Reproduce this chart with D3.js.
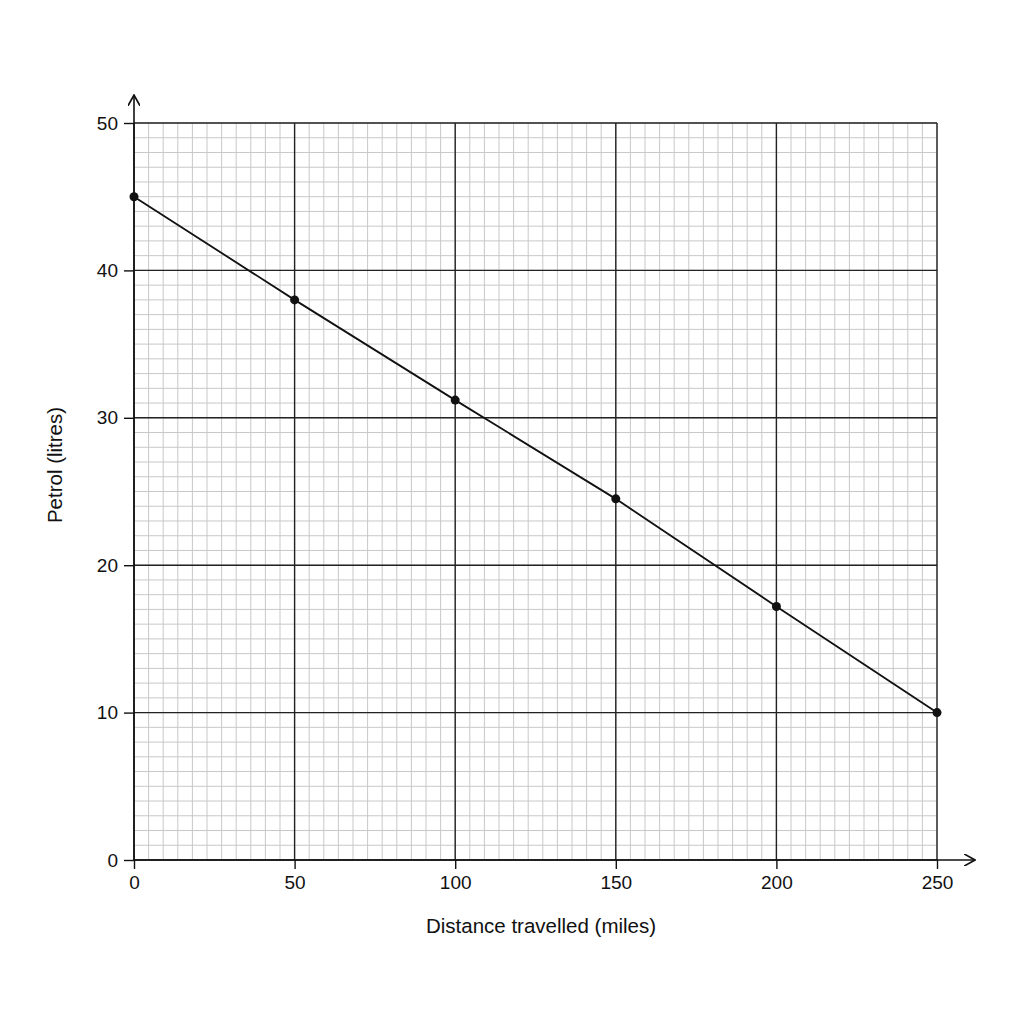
<!DOCTYPE html>
<html>
<head>
<meta charset="utf-8">
<script src="https://cdn.jsdelivr.net/npm/d3@7"></script>
<style>
body{margin:0;background:#fff;}
svg{display:block;font-family:"Liberation Sans",Arial,sans-serif;}
</style>
</head>
<body>
<svg width="1024" height="1024"></svg>
<script>
// data
var distance = [0, 50, 100, 150, 200, 250];
var petrol = [45, 38, 31.2, 24.5, 17.2, 10];
var xTicks = [0, 50, 100, 150, 200, 250];
var yTicks = [0, 10, 20, 30, 40, 50];

var svg = d3.select('svg');
var margin = {left:134,top:123,right:87,bottom:164};
var width = +svg.attr('width'), height = +svg.attr('height');
var innerwidth = width - margin.left - margin.right;
var innerheight = height - margin.top - margin.bottom;

var xscale = d3.scaleLinear().domain([0,250]).range([0,innerwidth]);
var yscale = d3.scaleLinear().domain([0,50]).range([innerheight,0]);

svg.append('defs').append('marker')
	.attr('id','arrow').attr('viewBox','0 0 10 10')
	.attr('refX',9).attr('refY',5)
	.attr('markerWidth',12).attr('markerHeight',12)
	.attr('markerUnits','userSpaceOnUse')
	.attr('orient','auto')
	.append('path').attr('d','M0,0L9,5L0,10')
	.attr('fill','none').attr('stroke','#111').attr('stroke-width',1.4);

var g = svg.append('g').attr('transform',`translate(${margin.left},${margin.top})`);

// minor grid (as drawn: 11 squares per 50 miles, 1 per litre)
var minorX = d3.range(0, 55+1).map(d => d*250/55);
var minorY = d3.range(0, 51);
var grid = g.append('g');
grid.selectAll('line.mx').data(minorX).enter().append('line')
	.attr('x1',d => xscale(d)).attr('x2',d => xscale(d))
	.attr('y1',0).attr('y2',innerheight)
	.attr('stroke','#c8c8c8').attr('stroke-width',1);
grid.selectAll('line.my').data(minorY).enter().append('line')
	.attr('y1',d => yscale(d)).attr('y2',d => yscale(d))
	.attr('x1',0).attr('x2',innerwidth)
	.attr('stroke','#c8c8c8').attr('stroke-width',1);

// major grid
grid.selectAll('line.Mx').data(xTicks).enter().append('line')
	.attr('x1',d => xscale(d)).attr('x2',d => xscale(d))
	.attr('y1',0).attr('y2',innerheight)
	.attr('stroke','#222').attr('stroke-width',1.4);
grid.selectAll('line.My').data(yTicks).enter().append('line')
	.attr('y1',d => yscale(d)).attr('y2',d => yscale(d))
	.attr('x1',0).attr('x2',innerwidth)
	.attr('stroke','#222').attr('stroke-width',1.4);

// axes
var yaxis = g.append('g').call(d3.axisLeft(yscale).tickValues(yTicks).tickSize(10).tickPadding(6));
var xaxis = g.append('g').attr('transform',`translate(0,${innerheight})`)
	.call(d3.axisBottom(xscale).tickValues(xTicks).tickSize(9).tickPadding(7));
[xaxis,yaxis].forEach(a => {
	a.select('.domain').remove();
	a.selectAll('line').attr('stroke','#111').attr('stroke-width',1.4);
	a.selectAll('text').attr('font-size',19).attr('fill','#111')
		.attr('font-family','"Liberation Sans",Arial,sans-serif');
});

g.append('line').attr('x1',0).attr('x2',0).attr('y1',innerheight).attr('y2',-28)
	.attr('stroke','#111').attr('stroke-width',1.6).attr('marker-end','url(#arrow)');
g.append('line').attr('x1',0).attr('x2',innerwidth+38).attr('y1',innerheight).attr('y2',innerheight)
	.attr('stroke','#111').attr('stroke-width',1.6).attr('marker-end','url(#arrow)');

// line and points
var pts = distance.map((d,i) => [d, petrol[i]]);
g.append('path').datum(pts)
	.attr('d', d3.line().x(d => xscale(d[0])).y(d => yscale(d[1])))
	.attr('fill','none').attr('stroke','#111').attr('stroke-width',1.8);
g.selectAll('circle').data(pts).enter().append('circle')
	.attr('cx',d => xscale(d[0])).attr('cy',d => yscale(d[1]))
	.attr('r',4.5).attr('fill','#111');

// titles
svg.append('text').attr('x',541).attr('y',933).attr('text-anchor','middle')
	.attr('font-size',20.5).attr('fill','#111').text('Distance travelled (miles)');
svg.append('text').attr('transform','translate(62,465) rotate(-90)').attr('text-anchor','middle')
	.attr('font-size',20.5).attr('fill','#111').text('Petrol (litres)');
</script>
</body>
</html>
